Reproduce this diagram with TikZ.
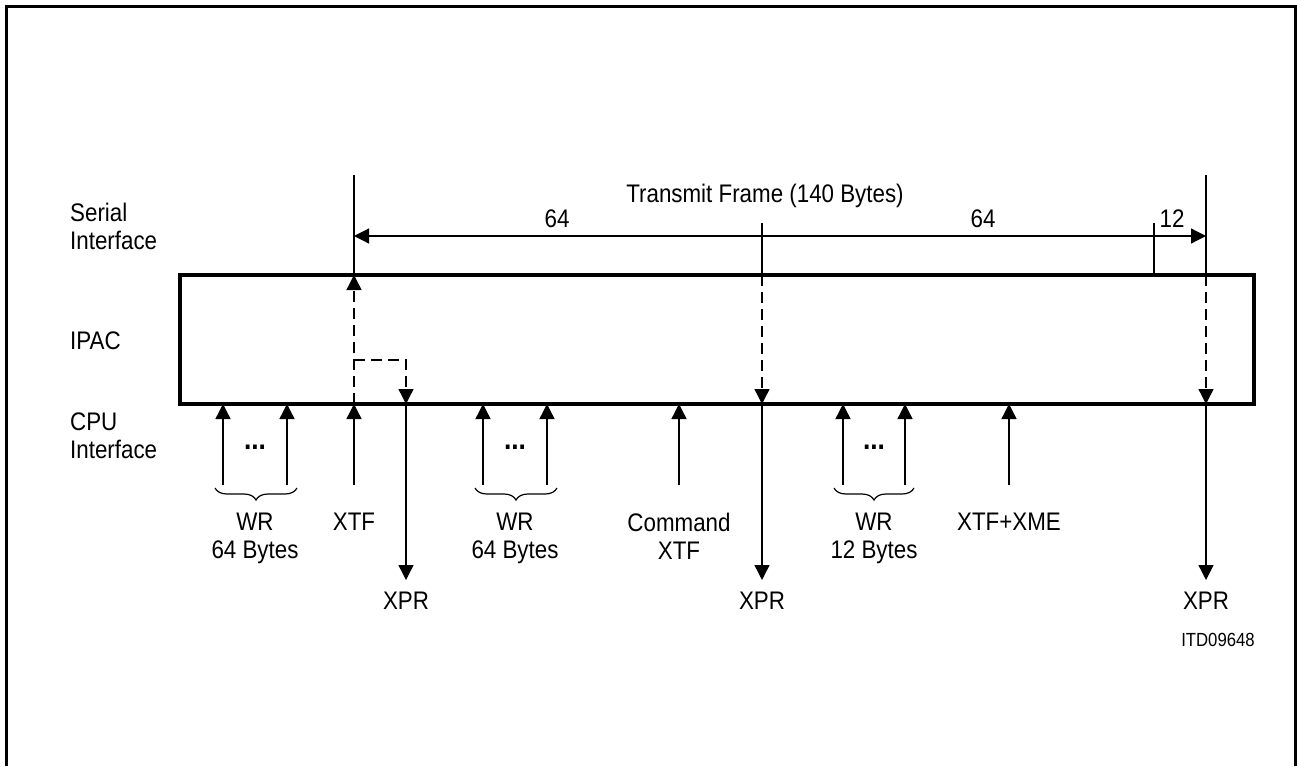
\documentclass[tikz,border=0pt]{standalone}
\usepackage{fontspec}
\setmainfont{Liberation Sans}[FakeStretch=0.88]
\usetikzlibrary{arrows.meta,decorations.pathreplacing}
\begin{document}
\begin{tikzpicture}[x=1pt,y=-1pt,
  lbl/.style={font=\fontsize{25.4}{28}\selectfont, inner sep=0pt, align=center},
  lbll/.style={font=\fontsize{25.4}{28}\selectfont, inner sep=0pt, align=left},
  small/.style={font=\fontsize{19}{22}\selectfont, inner sep=0pt},
  thin/.style={line width=1.4pt},
  arr/.style={thin,-{Triangle[length=15pt,width=15pt]}},
  darr/.style={arr,dash pattern=on 11pt off 6pt},
  dimline/.style={line width=1.2pt,{Triangle[length=15pt,width=15pt]}-{Triangle[length=15pt,width=15pt]}},
  brc/.style={line width=1.2pt, decorate, decoration={brace, amplitude=12pt, mirror}},
  dots/.style={font=\fontsize{30}{30}\selectfont\bfseries, inner sep=0pt, anchor=base}]
\useasboundingbox (0,0) rectangle (1297,766);
% outer frame
\draw[line width=3pt] (6,766) -- (6,6) -- (1295,6) -- (1295,766);
% IPAC box
\node[draw, line width=4pt, minimum width=1074pt, minimum height=129pt, inner sep=0pt] (ipac) at (717,339.5) {};
% left labels
\node[lbll, anchor=north west] (serial) at (70,203) {Serial\\Interface};
\node[lbll, anchor=north west] (ipacl) at (70,332) {IPAC};
\node[lbll, anchor=north west] (cpu) at (70,413) {CPU\\Interface};
% top labels
\node[lbl, anchor=base] (tf) at (765,202) {Transmit Frame (140 Bytes)};
\node[lbl, anchor=base] (n64a) at (557,227) {64};
\node[lbl, anchor=base] (n64b) at (983,227) {64};
\node[lbl, anchor=base] (n12) at (1172,227) {12};
% coordinates
\coordinate (lt) at (354,175);
\coordinate (lb) at (354,275);
\coordinate (lbot) at (354,404);
\coordinate (lmid) at (354,360);
\coordinate (bend) at (406,360);
\coordinate (xpr1t) at (406,404);
\coordinate (xpr1e) at (406,580);
\coordinate (mt) at (762,223);
\coordinate (mb) at (762,275);
\coordinate (mbot) at (762,404);
\coordinate (xpr2e) at (762,580);
\coordinate (rt) at (1206,175);
\coordinate (rb) at (1206,275);
\coordinate (rbot) at (1206,404);
\coordinate (xpr3e) at (1206,580);
\coordinate (dl) at (354,236);
\coordinate (dr) at (1206,236);
\coordinate (tickt) at (1154,223);
\coordinate (tickb) at (1154,275);
% dimension
\draw[dimline] (dl) -- (dr);
\draw[line width=1.2pt] (tickt) -- (tickb);
% verticals
\draw[thin] (lt) -- (lb);
\draw[darr] (lbot) -- (lb);
\draw[darr] (lmid) -- (bend) -- (xpr1t);
\draw[arr] (xpr1t) -- (xpr1e);
\draw[thin] (mt) -- (mb);
\draw[darr] (mb) -- (mbot);
\draw[arr] (mbot) -- (xpr2e);
\draw[thin] (rt) -- (rb);
\draw[darr] (rb) -- (rbot);
\draw[arr] (rbot) -- (xpr3e);
% XPR labels
\node[lbl, anchor=north] (xpr1) at (406,592) {XPR};
\node[lbl, anchor=north] (xpr2) at (762,592) {XPR};
\node[lbl, anchor=north] (xpr3) at (1206,592) {XPR};
\node[small, anchor=base] (itd) at (1218,646) {ITD09648};
% CPU side arrows
\foreach \n/\x in {a1/223,a2/287,x1/354,b1/483,b2/547,c1/679,d1/843,d2/905,e1/1009}{
  \coordinate (s\n) at (\x,485);
  \coordinate (t\n) at (\x,404);
  \draw[arr] (s\n) -- (t\n);
}
% dots
\node[dots] (dota) at (255,449) {...};
\node[dots] (dotb) at (515,449) {...};
\node[dots] (dotc) at (874,449) {...};
% braces
\coordinate (ba1) at (215,488); \coordinate (ba2) at (297,488);
\coordinate (bb1) at (475,488); \coordinate (bb2) at (557,488);
\coordinate (bc1) at (834,488); \coordinate (bc2) at (914,488);
\draw[brc] (ba1) -- (ba2);
\draw[brc] (bb1) -- (bb2);
\draw[brc] (bc1) -- (bc2);
% bottom labels
\node[lbl, anchor=north] (wr1) at (255,513) {WR\\64 Bytes};
\node[lbl, anchor=north] (xtf) at (354,513) {XTF};
\node[lbl, anchor=north] (wr2) at (515,513) {WR\\64 Bytes};
\node[lbl, anchor=north] (cmd) at (679,513) {Command\\XTF};
\node[lbl, anchor=north] (wr3) at (874,513) {WR\\12 Bytes};
\node[lbl, anchor=north] (xme) at (1009,513) {XTF+XME};
\end{tikzpicture}
\end{document}
